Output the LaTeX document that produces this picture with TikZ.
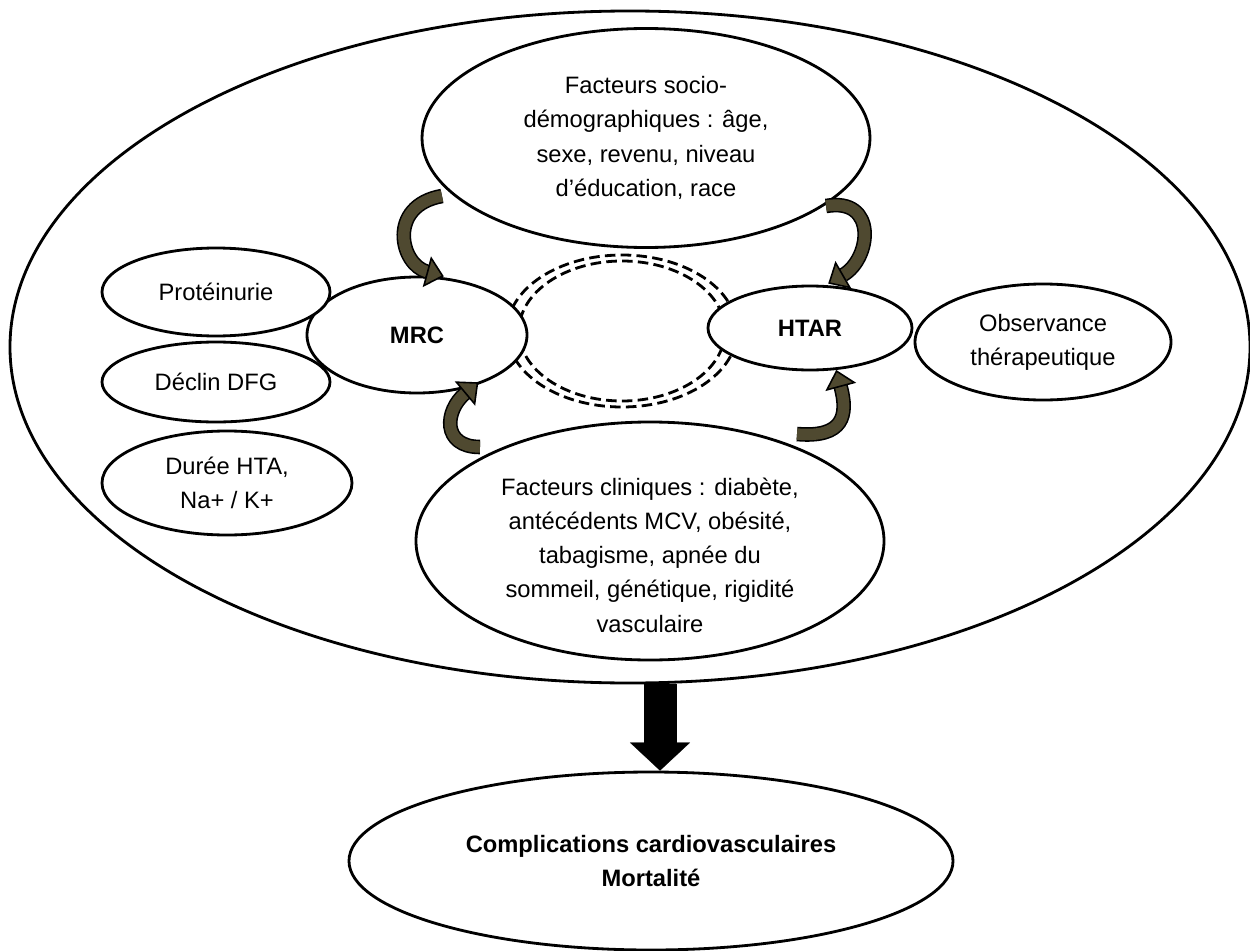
\documentclass[tikz,border=0pt]{standalone}
\usepackage{fontspec}
\setmainfont{Liberation Sans}
\usepackage{tikz}
\usetikzlibrary{arrows.meta,shapes.geometric}
\definecolor{arrowolive}{RGB}{79,73,48}

\begin{document}
\begin{tikzpicture}[x=0.2mm,y=-0.2mm,line width=1.6pt,
    main node/.style={ellipse,draw,fill=white,inner sep=0pt,align=center,font=\fontsize{13.5}{19.5}\selectfont},
    key node/.style={main node,font=\fontsize{13.5}{19.5}\selectfont\bfseries},
    text node/.style={inner sep=0pt,align=center,font=\fontsize{13.5}{19.5}\selectfont},
    loop node/.style={ellipse,draw,dash pattern=on 6pt off 3pt,inner sep=0pt,line width=1.6pt},
    bend arrow/.style={draw=black,line width=0.9pt,double=arrowolive,double distance=6.5pt,
      -{Triangle[length=10pt,width=18pt,fill=arrowolive,line width=0.9pt]}},
    big arrow/.style={line width=6.6mm,-{Triangle[length=5.6mm,width=12mm,line width=0.1pt]}}]
  \useasboundingbox (0,0) rectangle (1250,951);

  \node[main node,minimum width=248mm,minimum height=134.4mm] (big) at (630,347) {};

  \node[main node,minimum width=89.6mm,minimum height=43.8mm] (socio) at (646,138)
    {Facteurs socio-\\d\'emographiques : \^age,\\sexe, revenu, niveau\\d’\'education, race};
  \node[main node,minimum width=93.6mm,minimum height=47.6mm] (clin) at (650,541) {};
  \node[text node] (clintext) at (650,555)
    {Facteurs cliniques : diab\`ete,\\ant\'ec\'edents MCV, ob\'esit\'e,\\tabagisme, apn\'ee du\\sommeil, g\'en\'etique, rigidit\'e\\vasculaire};

  \node[loop node,minimum width=46mm,minimum height=30.4mm] (loopout) at (622,331) {};
  \node[loop node,minimum width=41.2mm,minimum height=28mm] (loopin) at (622,331) {};

  \node[key node,minimum width=44mm,minimum height=23.2mm] (mrc) at (417,335) {MRC};
  \node[key node,minimum width=40.8mm,minimum height=16.8mm] (htar) at (810,328) {HTAR};
  \node[main node,minimum width=51.2mm,minimum height=23.2mm] (obs) at (1043,342) {Observance\\th\'erapeutique};

  \node[main node,minimum width=45.6mm,minimum height=17.6mm] (prot) at (216,292) {Prot\'einurie};
  \node[main node,minimum width=45.6mm,minimum height=16mm] (dfg) at (216,382) {D\'eclin DFG};
  \node[main node,minimum width=50mm,minimum height=20.8mm] (duree) at (227,483) {Dur\'ee HTA,\\Na+ / K+};

  \node[key node,minimum width=120.8mm,minimum height=35.6mm] (cmp) at (651,861)
    {Complications cardiovasculaires\\Mortalit\'e};

  % tails of the curved arrows
  \coordinate (t1) at (442,196);
  \coordinate (t2) at (826,206);
  \coordinate (t3) at (480,447);
  \coordinate (t4) at (797,434);

  \draw[bend arrow,shorten >=2mm] (t1) to[out=190,in=165,looseness=1.7] (mrc.57);
  \draw[bend arrow,shorten >=0.6mm] (t2) to[out=10,in=30,looseness=1.7] (htar.70);
  \draw[bend arrow,shorten >=-1.2mm] (t3) to[out=180,in=220,looseness=1.6] (mrc.-42);
  \draw[bend arrow] (t4) to[out=-5,in=-75,looseness=1.6] (htar.-58);

  \draw[big arrow] ([xshift=6mm]big.south) -- ([xshift=6mm]big.south |- cmp.north);
\end{tikzpicture}
\end{document}
